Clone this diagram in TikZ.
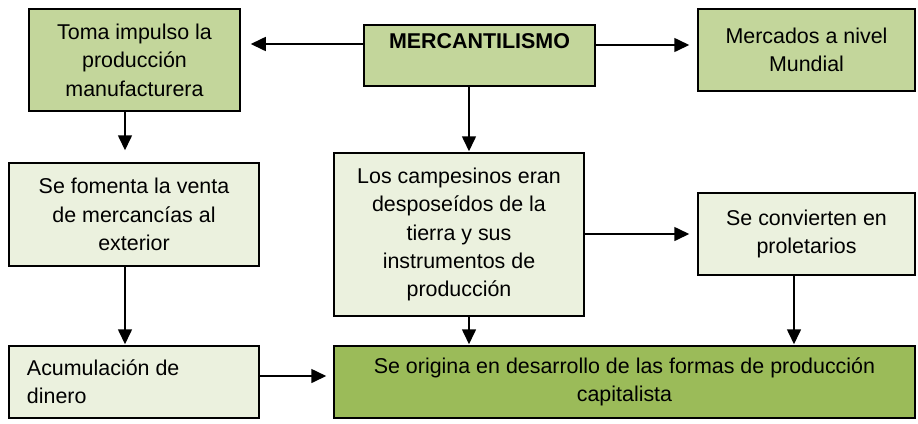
\documentclass[tikz,border=0pt]{standalone}
\usepackage{fontspec}
\setmainfont{Liberation Sans}
\usetikzlibrary{arrows.meta}
\definecolor{gmid}{HTML}{C3D69B}
\definecolor{glight}{HTML}{EBF1DE}
\definecolor{gdark}{HTML}{9BBB59}
\tikzset{
  box/.style={draw=black, line width=1.5bp, align=center, inner sep=0pt,
    font=\fontsize{21.5}{28.5}\selectfont},
  arr/.style={line width=1.6bp, -{Triangle[length=15bp,width=14bp]}}
}
\begin{document}
\begin{tikzpicture}[x=1bp,y=-1bp]
\useasboundingbox (0,0) rectangle (918,423);
\node[box, fill=gmid, minimum width=211bp, minimum height=102bp] (A) at (134.5,60) {Toma impulso la\\producción\\manufacturera};
\node[box, fill=gmid, minimum width=231bp, minimum height=61bp, font=\fontsize{21.5}{28.5}\selectfont\bfseries] (M) at (479.5,55.5) {MERCANTILISMO\\\mbox{}};
\node[box, fill=gmid, minimum width=217bp, minimum height=82bp] (W) at (806.5,50) {Mercados a nivel\\Mundial};
\node[box, fill=glight, minimum width=250bp, minimum height=103bp] (B) at (134,214.5) {Se fomenta la venta\\de mercancías al\\exterior};
\node[box, fill=glight, minimum width=250bp, minimum height=163bp] (C) at (459,234.5) {Los campesinos eran\\desposeídos de la\\tierra y sus\\instrumentos de\\producción};
\node[box, fill=glight, minimum width=250bp, minimum height=72bp, align=flush left, text width=214bp] (D) at (134,382) {Acumulación de\\dinero};
\node[box, fill=glight, minimum width=217bp, minimum height=82bp] (E) at (806.5,234) {Se convierten en\\proletarios};
\node[box, fill=gdark, minimum width=581bp, minimum height=72bp] (F) at (624.5,382) {Se origina en desarrollo de las formas de producción\\capitalista};
\coordinate (xa) at (125,0);
\coordinate (xm) at (469,0);
\coordinate (xe) at (794,0);
\coordinate (y1) at (0,44);
\coordinate (y2) at (0,45);
\coordinate (y3) at (0,234);
\coordinate (y4) at (0,376);
\draw[arr, shorten >=10bp] (M.west |- y1) -- (A.east |- y1);
\draw[arr, shorten >=8bp] (M.east |- y2) -- (W.west |- y2);
\draw[arr, shorten >=12bp] (A.south -| xa) -- (B.north -| xa);
\draw[arr, shorten >=1bp] (B.south -| xa) -- (D.north -| xa);
\draw[arr, shorten >=7bp] (D.east |- y4) -- (F.west |- y4);
\draw[arr, shorten >=1bp] (M.south -| xm) -- (C.north -| xm);
\draw[arr, shorten >=1bp] (C.south -| xm) -- (F.north -| xm);
\draw[arr, shorten >=8bp] (C.east |- y3) -- (E.west |- y3);
\draw[arr, shorten >=1bp] (E.south -| xe) -- (F.north -| xe);
\end{tikzpicture}
\end{document}
